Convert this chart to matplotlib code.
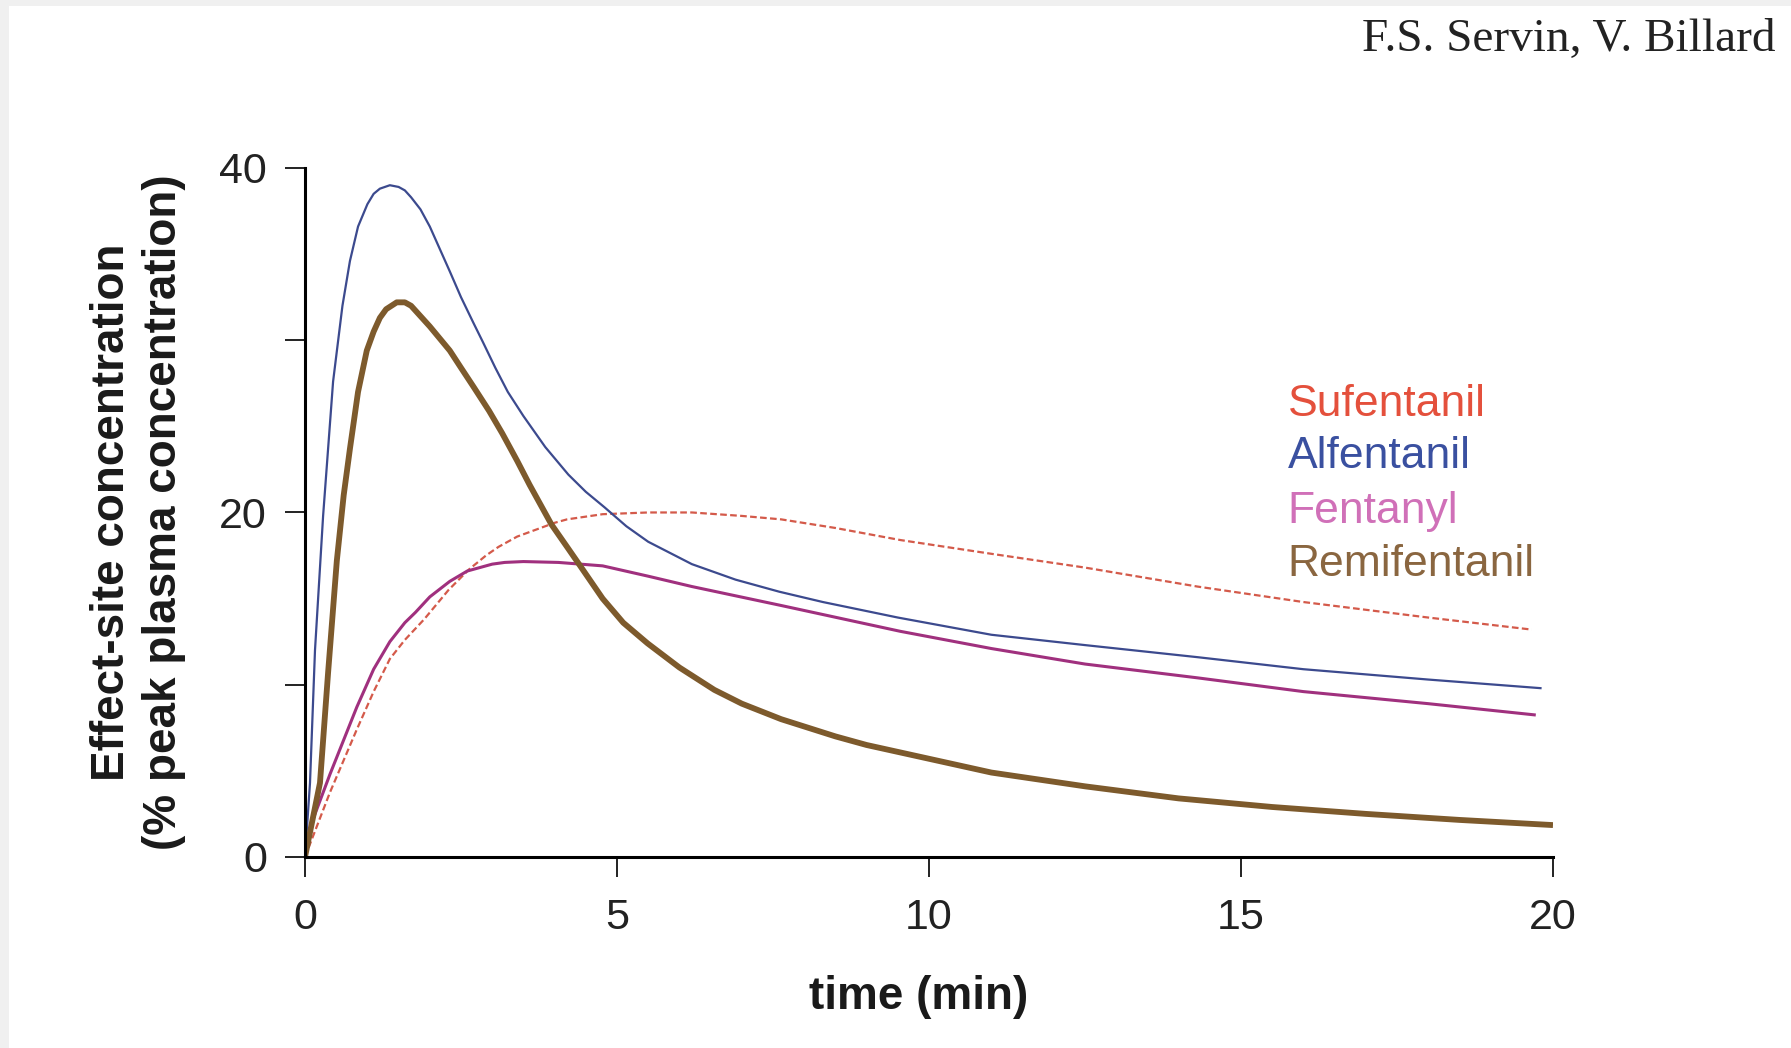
import matplotlib
matplotlib.use('Agg')
import matplotlib.pyplot as plt
from matplotlib.patches import Rectangle

# values (time in min, % peak plasma concentration)
alf_t = [0, 0.08, 0.16, 0.29, 0.45, 0.6, 0.72, 0.85, 1.0, 1.1, 1.2, 1.36, 1.5, 1.6,
         1.7, 1.85, 2.0, 2.32, 2.5, 2.7, 2.85, 3.05, 3.25, 3.5, 3.85, 4.22, 4.5, 4.8,
         5.15, 5.5, 6.2, 6.9, 7.6, 8.3, 9.5, 11, 12.5, 14.3, 16, 18, 19.8]
alf_y = [0, 4.3, 12.0, 19.8, 27.6, 32.0, 34.6, 36.6, 37.9, 38.5, 38.8, 39.0, 38.9, 38.7,
         38.3, 37.6, 36.6, 34.0, 32.5, 31.0, 29.9, 28.4, 27.0, 25.6, 23.8, 22.2, 21.2, 20.3,
         19.2, 18.3, 17.0, 16.1, 15.4, 14.8, 13.9, 12.9, 12.3, 11.6, 10.9, 10.3, 9.8]

remi_t = [0, 0.24, 0.37, 0.51, 0.62, 0.72, 0.85, 0.99, 1.1, 1.2, 1.3, 1.47, 1.6, 1.7,
          1.8, 2.0, 2.32, 2.5, 2.7, 2.95, 3.16, 3.4, 3.6, 3.95, 4.2, 4.41, 4.77, 5.1,
          5.49, 6.0, 6.56, 7.0, 7.63, 8.5, 9.0, 10, 11, 12.5, 14, 15.5, 17, 18.5, 20]
remi_y = [0, 4.3, 10.7, 17.2, 21.0, 23.7, 27.0, 29.4, 30.5, 31.3, 31.8, 32.2, 32.2, 32.0,
          31.6, 30.8, 29.4, 28.4, 27.3, 25.9, 24.6, 23.0, 21.6, 19.3, 18.0, 16.9, 15.0, 13.6,
          12.4, 11.0, 9.7, 8.9, 8.0, 7.0, 6.5, 5.7, 4.9, 4.1, 3.4, 2.9, 2.5, 2.15, 1.85]

fent_t = [0, 0.13, 0.4, 0.83, 1.1, 1.36, 1.6, 1.77, 2.0, 2.32, 2.6, 3.0, 3.2, 3.5,
          4.06, 4.77, 5.5, 6.2, 7.63, 9.54, 11, 12.5, 14.3, 16, 18, 19.7]
fent_y = [0, 2.2, 4.8, 8.7, 10.9, 12.5, 13.6, 14.2, 15.1, 16.0, 16.6, 17.0, 17.1, 17.15,
          17.1, 16.9, 16.3, 15.7, 14.6, 13.1, 12.1, 11.2, 10.4, 9.6, 8.9, 8.25]

sufe_t = [0, 0.4, 0.83, 1.1, 1.36, 1.6, 1.91, 2.3, 2.63, 2.9, 3.1, 3.4, 3.7, 4.0, 4.2,
          4.77, 5.5, 6.2, 7.0, 7.63, 8.5, 9.54, 11, 12.5, 14.3, 16, 18, 19.66]
sufe_y = [0, 3.75, 7.4, 9.6, 11.5, 12.6, 13.8, 15.5, 16.7, 17.5, 18.0, 18.6, 19.0, 19.4,
          19.6, 19.9, 20.0, 20.0, 19.8, 19.6, 19.1, 18.4, 17.6, 16.8, 15.7, 14.8, 13.9, 13.2]

names = ['Sufentanil', 'Alfentanil', 'Fentanyl', 'Remifentanil']
text_colors = ['#e4503c', '#3a50a0', '#d070b8', '#8a6640']

plt.rcParams['font.family'] = ['Liberation Sans', 'DejaVu Sans']

fig = plt.figure(figsize=(17.91, 10.48), dpi=100)
fig.patch.set_facecolor('#f0f0f0')
fig.patches.append(Rectangle((9 / 1791, 0), 1, 1 - 6 / 1048, transform=fig.transFigure,
                             facecolor='white', edgecolor='none', zorder=-10))

ax = fig.add_axes([0.1703, 0.1823, 0.8671 - 0.1703, 0.8397 - 0.1823])
ax.set_facecolor('none')

ax.plot(sufe_t, sufe_y, color='#d45a4a', lw=1.6, ls=(0, (3, 1.5)))
ax.plot(fent_t, fent_y, color='#a0307e', lw=2.2, solid_joinstyle='round')
ax.plot(alf_t, alf_y, color='#3c4a8e', lw=1.6, solid_joinstyle='round')
ax.plot(remi_t, remi_y, color='#7d5a2c', lw=4.2, solid_capstyle='butt',
        solid_joinstyle='round')

ax.set_xlim(0, 20)
ax.set_ylim(0, 40)
ax.set_xticks([0, 5, 10, 15, 20])
ax.set_yticks([0, 10, 20, 30, 40])
ax.set_yticklabels(['0', '', '20', '', '40'])
for s in ['top', 'right']:
    ax.spines[s].set_visible(False)
for s in ['left', 'bottom']:
    ax.spines[s].set_linewidth(2.2)
ax.tick_params(axis='both', direction='out', length=14.4, width=1.4,
               labelsize=31, colors='#222222')
ax.tick_params(axis='x', pad=15)
ax.tick_params(axis='y', pad=13)

# labels
fig.text(112 / 1791, 1 - 512 / 1048, 'Effect-site concentration', rotation=90,
         ha='center', va='center', fontsize=33, fontweight='bold', color='#1a1a1a')
fig.text(164 / 1791, 1 - 512 / 1048, '(% peak plasma concentration)', rotation=90,
         ha='center', va='center', fontsize=33, fontweight='bold', color='#1a1a1a')
fig.text(919 / 1791, 1 - 997 / 1048, 'time (min)', ha='center', va='center',
         fontsize=33, fontweight='bold', color='#1a1a1a')

# drug names
legend_y = [25.6, 22.6, 19.4, 16.3]
for name, c, yy in zip(names, text_colors, legend_y):
    ax.text(15.75, yy, name, color=c, fontsize=32, ha='left', va='baseline')

fig.text(1776 / 1791, 1 - 51 / 1048, 'F.S. Servin, V. Billard', ha='right', va='baseline',
         fontsize=34, family='Liberation Serif', color='#222222')

fig.savefig('out.png', dpi=100, facecolor=fig.get_facecolor())
